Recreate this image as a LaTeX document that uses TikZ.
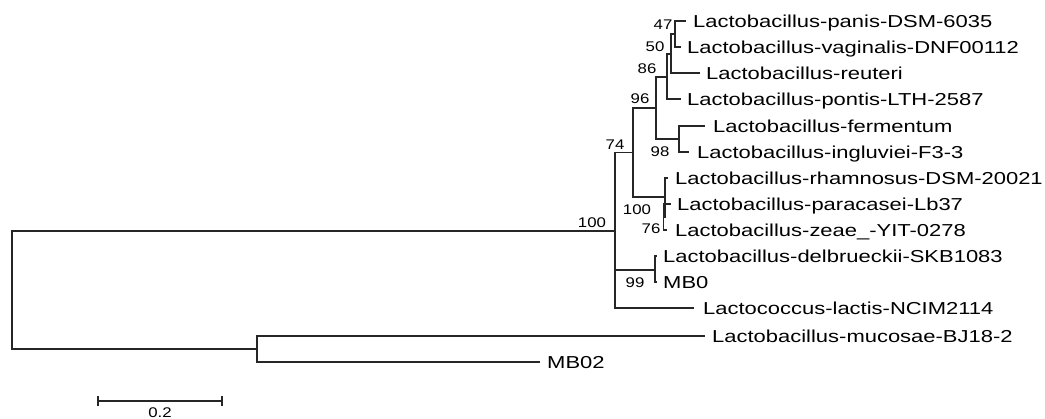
\documentclass[tikz,border=0pt]{standalone}
\usepackage{fontspec}
\newfontfamily\leaffont[FakeStretch=1.27]{Liberation Sans}
\newfontfamily\bootfont[FakeStretch=1.2]{Liberation Sans}
\begin{document}
\begin{tikzpicture}[x=1pt,y=-1pt,
  branch/.style={draw=black!85, line width=1.15pt, line cap=rect},
  leaf/.style={anchor=base west, inner sep=0pt, yshift=-6.2pt, font=\leaffont\fontsize{17.3}{17.3}\selectfont},
  boot/.style={anchor=center, inner sep=0pt, font=\bootfont\fontsize{14}{14}\selectfont}]
\useasboundingbox (0,0) rectangle (1045,419);
% internal nodes
\coordinate (r0) at (12,290);
\coordinate (n100) at (615,231);
\coordinate (n74) at (633,152.5);
\coordinate (n96) at (656,108);
\coordinate (n86) at (667,77);
\coordinate (n50) at (671,54);
\coordinate (n47) at (675,34);
\coordinate (n98) at (679,139);
\coordinate (nRh) at (665,197);
\coordinate (n76) at (663.5,217);
\coordinate (n99) at (655,270);
\coordinate (nMuc) at (257,349);
% tips
\coordinate (tPanis) at (685,21);
\coordinate (tVag) at (680,47);
\coordinate (tReu) at (699,73);
\coordinate (tPon) at (680,99);
\coordinate (tFer) at (704,126);
\coordinate (tIng) at (688,152);
\coordinate (tRha) at (667,178);
\coordinate (tPar) at (670,204);
\coordinate (tZea) at (666,230);
\coordinate (tDel) at (656,256);
\coordinate (tMB0) at (656,282);
\coordinate (tLac) at (693,308);
\coordinate (tMuc) at (704,336);
\coordinate (tMB02) at (539,362);
% branches
\draw[branch] (r0) |- (n100);
\draw[branch] (r0) |- (nMuc);
\draw[branch] (nMuc) |- (tMuc);
\draw[branch] (nMuc) |- (tMB02);
\draw[branch] (n100) |- (n74);
\draw[branch] (n100) |- (n99);
\draw[branch] (n100) |- (tLac);
\draw[branch] (n74) |- (n96);
\draw[branch] (n74) |- (nRh);
\draw[branch] (n96) |- (n86);
\draw[branch] (n96) |- (n98);
\draw[branch] (n86) |- (n50);
\draw[branch] (n86) |- (tPon);
\draw[branch] (n50) |- (n47);
\draw[branch] (n50) |- (tReu);
\draw[branch] (n47) |- (tPanis);
\draw[branch] (n47) |- (tVag);
\draw[branch] (n98) |- (tFer);
\draw[branch] (n98) |- (tIng);
\draw[branch] (nRh) |- (tRha);
\draw[branch] (nRh) |- (n76);
\draw[branch] (n76) |- (tPar);
\draw[branch] (n76) |- (tZea);
\draw[branch] (n99) |- (tDel);
\draw[branch] (n99) |- (tMB0);
% leaf labels
\node[leaf] (lPanis) at (693,21) {Lactobacillus-panis-DSM-6035};
\node[leaf] (lVag) at (687,47) {Lactobacillus-vaginalis-DNF00112};
\node[leaf] (lReu) at (706,73) {Lactobacillus-reuteri};
\node[leaf] (lPon) at (687,99) {Lactobacillus-pontis-LTH-2587};
\node[leaf] (lFer) at (713,126) {Lactobacillus-fermentum};
\node[leaf] (lIng) at (697,152) {Lactobacillus-ingluviei-F3-3};
\node[leaf] (lRha) at (675,178) {Lactobacillus-rhamnosus-DSM-20021};
\node[leaf] (lPar) at (677,204) {Lactobacillus-paracasei-Lb37};
\node[leaf] (lZea) at (675,230) {Lactobacillus-zeae\_-YIT-0278};
\node[leaf] (lDel) at (663,256) {Lactobacillus-delbrueckii-SKB1083};
\node[leaf] (lMB0) at (663,282) {MB0};
\node[leaf] (lLac) at (703,308) {Lactococcus-lactis-NCIM2114};
\node[leaf] (lMuc) at (712,336) {Lactobacillus-mucosae-BJ18-2};
\node[leaf] (lMB02) at (547,362) {MB02};
% bootstrap values
\node[boot] (b47) at (663,25) {47};
\node[boot] (b50) at (655,47) {50};
\node[boot] (b86) at (647,69) {86};
\node[boot] (b96) at (640,99) {96};
\node[boot] (b74) at (615,145) {74};
\node[boot] (b98) at (660,152) {98};
\node[boot] (b100r) at (637,210) {100};
\node[boot] (b76) at (651,229) {76};
\node[boot] (b100) at (592,223) {100};
\node[boot] (b99) at (635,283) {99};
% scale bar
\coordinate (sb1) at (98,401);
\coordinate (sb2) at (222,401);
\draw[branch, line cap=butt] (sb1) -- (sb2);
\draw[branch, line cap=butt] ([yshift=5pt]sb1) -- ([yshift=-5pt]sb1);
\draw[branch, line cap=butt] ([yshift=5pt]sb2) -- ([yshift=-5pt]sb2);
\node[boot] (sbl) at (160,413) {0.2};
\end{tikzpicture}
\end{document}
